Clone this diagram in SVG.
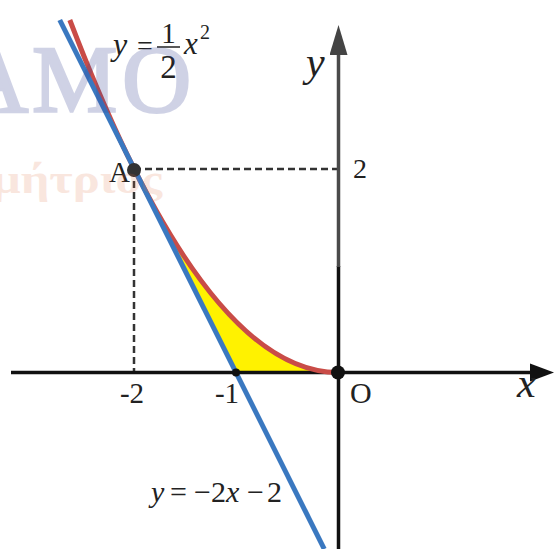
<svg xmlns="http://www.w3.org/2000/svg" width="554" height="549" viewBox="0 0 554 549">
<style>
text{font-family:"Liberation Serif","Times New Roman",serif;fill:#222}
.it{font-style:italic}
.dash{stroke:#333;stroke-width:2.5;stroke-dasharray:7 4;fill:none}
</style>
<defs>
<marker id="arrX" markerUnits="userSpaceOnUse" markerWidth="24" markerHeight="20" refX="2" refY="9" orient="auto" viewBox="0 0 24 18">
<path d="M0,0 L24,9 L0,18 Z" fill="#111"/>
</marker>
<marker id="arrY" markerUnits="userSpaceOnUse" markerWidth="30" markerHeight="18" refX="2" refY="9" orient="auto" viewBox="0 0 30 18">
<path d="M0,0 L30,9 L0,18 Z" fill="#444"/>
</marker>
</defs>
<rect width="554" height="549" fill="#fff"/>

<g id="region">
<path d="M134,168.5 Q236,372.5 338,372.5 L236,372.5 Z" fill="#fff200"/>
</g>

<g id="guides">
<line class="dash" x1="134" y1="169" x2="338" y2="169"/>
<line class="dash" x1="134" y1="170" x2="134" y2="372"/>
</g>

<g id="axes">
<line x1="11" y1="372.5" x2="532" y2="372.5" stroke="#111" stroke-width="3.5" marker-end="url(#arrX)"/>
<line x1="338.5" y1="549" x2="338.5" y2="266" stroke="#111" stroke-width="3.5"/>
<line x1="338.5" y1="267" x2="338.5" y2="53" stroke="#4a4a4a" stroke-width="3.5" marker-end="url(#arrY)"/>
</g>

<g id="parabola">
<path d="M69.8,20 Q203.9,372.5 338,372.5" fill="none" stroke="#c94c47" stroke-width="5"/>
</g>
<g id="tangent">
<line x1="59.75" y1="20" x2="324.25" y2="549" stroke="#3a78c0" stroke-width="5"/>
</g>

<g id="points">
<circle cx="134" cy="170" r="7" fill="#333"/>
<circle cx="338" cy="372.5" r="7" fill="#111"/>
<circle cx="236" cy="372.5" r="4" fill="#111"/>
</g>

<g id="labels">
<text x="306" y="76" font-size="42" class="it">y</text>
<text x="517" y="397" font-size="42" class="it">x</text>
<text x="353" y="178" font-size="28">2</text>
<text x="132" y="403" font-size="29" text-anchor="middle">-2</text>
<text x="227" y="403" font-size="29" text-anchor="middle">-1</text>
<text x="350" y="403" font-size="30">O</text>
<text x="109" y="182" font-size="29">A</text>

<g id="eq1">
<text x="113" y="55" font-size="32" class="it">y</text>
<text x="137" y="55" font-size="28">=</text>
<line x1="157" y1="47" x2="180" y2="47" stroke="#222" stroke-width="1.5"/>
<text x="168.5" y="43" font-size="29" text-anchor="middle">1</text>
<text x="168.5" y="78" font-size="33" text-anchor="middle">2</text>
<text x="184" y="54" font-size="31" class="it">x</text>
<text x="200" y="39" font-size="20">2</text>
</g>

<g id="eq2">
<text x="151" y="502" font-size="30" class="it">y</text>
<text x="170" y="502" font-size="30">=</text>
<text x="194" y="502" font-size="30">−2</text>
<text x="226" y="502" font-size="30" class="it">x</text>
<text x="247" y="502" font-size="30">−</text>
<text x="267" y="502" font-size="30">2</text>
</g>
</g>

<g id="watermark">
<text y="112" font-size="96" opacity="0.24" stroke="#3c4696" stroke-width="2.5" style="fill:#3c4696"><tspan x="-41">A</tspan><tspan x="32">M</tspan><tspan x="122">O</tspan></text>
<text x="-8" y="193" font-size="42" font-weight="bold" textLength="170" lengthAdjust="spacingAndGlyphs" opacity="0.17" style="fill:#e07040">μήτριος</text>
</g>
</svg>
